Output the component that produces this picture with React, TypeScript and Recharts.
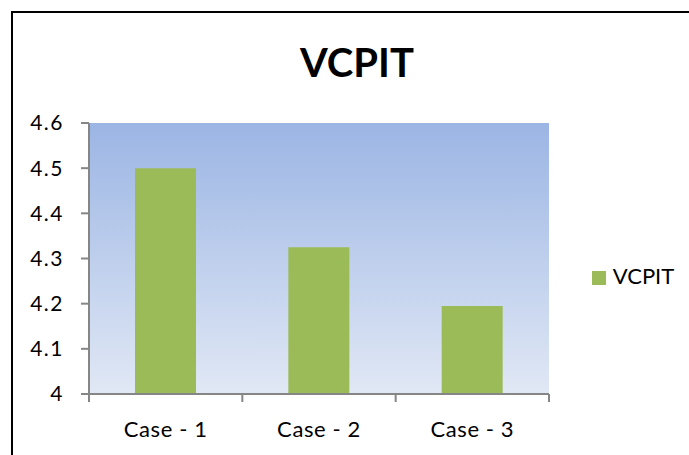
import { BarChart, Bar, XAxis, YAxis, CartesianGrid, Legend } from 'recharts';

const categories = ['Case - 1', 'Case - 2', 'Case - 3'];
const vcpit = [4.5, 4.325, 4.195];
const yTicks = [4, 4.1, 4.2, 4.3, 4.4, 4.5, 4.6];

const data = categories.map((name, i) => ({ name, VCPIT: vcpit[i] }));

const FONT = 'Lato, "Open Sans", sans-serif';
const AXIS = '#868686';

// Excel style: tick marks sit between the categories, label in the middle
function CaseTick(props: any) {
  const { x, y, payload, index } = props;
  const off = payload?.offset ?? 0;
  const top = y - 27;
  return (
    <g>
      {off > 0 && <line x1={x - off} x2={x - off} y1={top} y2={top + 8} stroke={AXIS} strokeWidth={2} />}
      {off > 0 && index === categories.length - 1 &&
        <line x1={x + off} x2={x + off} y1={top} y2={top + 8} stroke={AXIS} strokeWidth={2} />}
      <text x={x} y={y} dy={16} textAnchor="middle" fill="#000"
        style={{ fontSize: 22, fontFamily: FONT, letterSpacing: 0.6 }}>
        {payload.value}
      </text>
    </g>
  );
}

export default function App() {
  return (
    <div style={{ position: 'absolute', left: 0, top: 0, width: 689, height: 455, background: '#fff', fontFamily: FONT }}>
      <div style={{
        position: 'absolute', left: 11, top: 11, width: 678, height: 444,
        borderLeft: '2px solid #000', borderTop: '2px solid #000',
      }} />
      <div style={{
        position: 'absolute', left: 0, width: 714, top: 38, textAlign: 'center',
        fontSize: 40, fontWeight: 700, color: '#000', lineHeight: '48px',
      }}>
        VCPIT
      </div>
      <BarChart width={689} height={455} data={data} barCategoryGap="30%"
        margin={{ top: 123, right: 140, bottom: 0, left: 0 }}
        style={{ position: 'absolute', left: 0, top: 0 }}>
        <defs>
          <linearGradient id="bg" x1="0" y1="0" x2="0" y2="1">
            <stop offset="0%" stopColor="#9bb5e4" />
            <stop offset="100%" stopColor="#e1e8f5" />
          </linearGradient>
        </defs>
        <CartesianGrid horizontal={false} vertical={false} fill="url(#bg)" />
        <YAxis domain={[4, 4.6]} ticks={yTicks} width={89} interval={0}
          tickFormatter={(v: number) => String(Math.round(v * 10) / 10)}
          axisLine={{ stroke: AXIS, strokeWidth: 2 }} tickLine={{ stroke: AXIS, strokeWidth: 2 }}
          tickSize={8} tickMargin={17}
          tick={{ fontSize: 21, fill: '#000', fontFamily: FONT, letterSpacing: 1.5 }} />
        <XAxis dataKey="name" height={61} axisLine={{ stroke: AXIS, strokeWidth: 2 }}
          tickLine={false} tickMargin={21} interval={0} tick={<CaseTick />} />
        <Legend layout="horizontal" align="center" verticalAlign="middle"
          iconType="square" iconSize={14}
          wrapperStyle={{ left: 588, top: 262, width: 100, height: 30, fontSize: 22, fontFamily: FONT, lineHeight: '28px' }}
          formatter={(v: string) => <span style={{ color: '#000', marginLeft: 3 }}>{v}</span>} />
        <Bar dataKey="VCPIT" fill="#9bbb59" isAnimationActive={false} />
      </BarChart>
    </div>
  );
}
